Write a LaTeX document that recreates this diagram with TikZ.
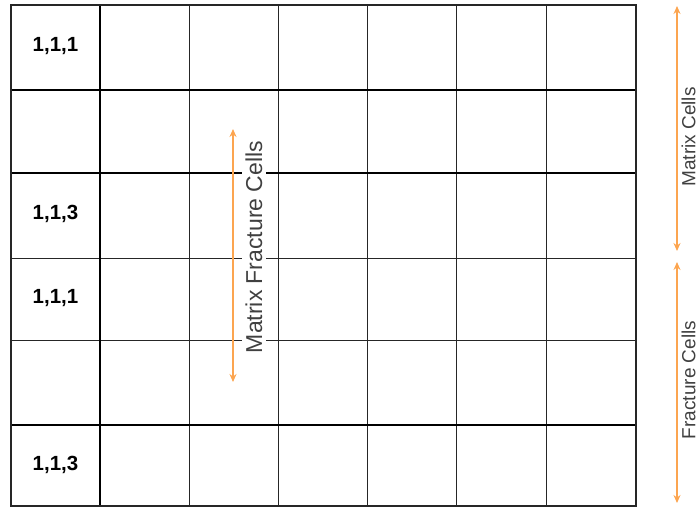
\documentclass[tikz,border=0pt]{standalone}
\usepackage{fontspec}
\setmainfont{Liberation Sans}
\usetikzlibrary{arrows.meta}
\definecolor{spanorange}{RGB}{252,165,80}
\tikzset{
  gridthin/.style={line width=0.9pt,black!85},
  gridbold/.style={line width=2pt,black},
  gridedge/.style={line width=1.3pt,black!85},
  cellnum/.style={font=\bfseries\fontsize{20.5}{20.5}\selectfont},
  spanarrow/.style={<->,spanorange,line width=1.2pt},
  spanlabel/.style={rotate=90,inner sep=0pt,text=black!75,font=\fontsize{23}{23}\selectfont},
  sidelabel/.style={rotate=90,inner sep=0pt,text=black!75,font=\fontsize{19}{19}\selectfont}
}
\begin{document}
\begin{tikzpicture}[x=1pt,y=-1pt,>={Stealth[length=8pt,width=7pt]}]
  \useasboundingbox (0,0) rectangle (698,507);
  \foreach \x in {189,278,367,456,546} \draw[gridthin] (\x,5) -- (\x,506);
  \foreach \y in {258,340} \draw[gridthin] (11,\y) -- (636,\y);
  \foreach \y in {90,173,425} \draw[gridbold] (11,\y) -- (636,\y);
  \draw[gridbold] (100,5) -- (100,506);
  \draw[gridedge] (11,5) rectangle (636,506);
  \node[cellnum] (r1) at (55.5,46) {1,1,1};
  \node[cellnum] (r3) at (55.5,214) {1,1,3};
  \node[cellnum] (r4) at (55.5,298) {1,1,1};
  \node[cellnum] (r6) at (55.5,465) {1,1,3};
  \node[spanlabel,fill=white,inner xsep=4pt,inner ysep=4pt] (mf) at (254,247) {Matrix Fracture Cells};
  \node[sidelabel] (mc) at (688.5,137) {Matrix Cells};
  \node[sidelabel] (fc) at (688.5,380) {Fracture Cells};
  \coordinate (mf top) at (233,129);
  \coordinate (mf bot) at (233,382);
  \coordinate (mc top) at (677,6);
  \coordinate (mc bot) at (677,251);
  \coordinate (fc top) at (677,262);
  \coordinate (fc bot) at (677,503);
  \draw[spanarrow] (mf top) -- (mf bot);
  \draw[spanarrow] (mc top) -- (mc bot);
  \draw[spanarrow] (fc top) -- (fc bot);
\end{tikzpicture}
\end{document}
